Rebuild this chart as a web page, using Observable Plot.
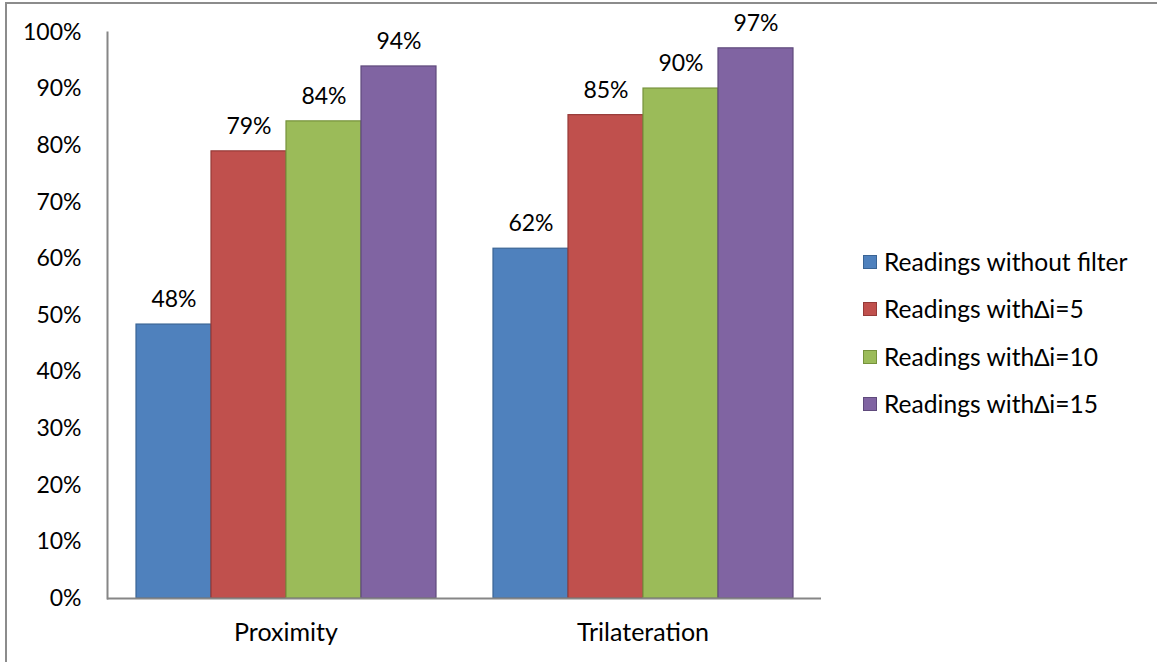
<!DOCTYPE html>
<html>
<head>
<meta charset="utf-8">
<script src="https://cdn.jsdelivr.net/npm/d3@7"></script>
<script src="https://cdn.jsdelivr.net/npm/@observablehq/plot@0.6"></script>
<style>
  body { margin: 0; background: #fff; }
  #wrap { position: relative; width: 1157px; height: 662px; overflow: hidden; font-family: Lato, "Noto Sans", sans-serif; background: #fff; }
  #border { position: absolute; left: 5px; top: 2px; width: 1300px; height: 800px; border-left: 2px solid #8c8c8c; border-top: 2px solid #8c8c8c; }
  #chart { position: absolute; left: 0; top: 0; }
  #legend { position: absolute; left: 863px; top: 238px; }
  .row { height: 47.5px; display: flex; align-items: center; font-size: 24.6px; color: #000; white-space: nowrap; }
  .sw { width: 14px; height: 14px; box-sizing: border-box; margin-right: 7px; border: 1px solid; }
  .fxaxis text { font-size: 25px; }
</style>
</head>
<body>
<div id="wrap">
  <div id="border"></div>
  <div id="chart"></div>
  <div id="legend"></div>
</div>
<script>
const categories = ["Proximity", "Trilateration"];
const series = ["Readings without filter", "Readings with\u2206i=5", "Readings with\u2206i=10", "Readings with\u2206i=15"];
const proximityValues = [0.484, 0.79, 0.843, 0.94];
const trilaterationValues = [0.618, 0.854, 0.901, 0.972];
const yTicks = [0, 0.1, 0.2, 0.3, 0.4, 0.5, 0.6, 0.7, 0.8, 0.9, 1.0];
const fills = ["#4F81BD", "#C0504D", "#9BBB59", "#8064A2"];
const strokes = ["#3A6494", "#963A38", "#76923C", "#5F4A7C"];

const valuesByCategory = [proximityValues, trilaterationValues];
const data = [];
categories.forEach((c, ci) => series.forEach((s, si) => data.push({category: c, series: s, value: valuesByCategory[ci][si]})));

const pct = v => Math.round(v * 100) + "%";

const plot = Plot.plot({
  width: 1157,
  height: 662,
  marginLeft: 107,
  marginRight: 336,
  marginTop: 32,
  marginBottom: 64,
  style: {fontFamily: "Lato, 'Noto Sans', sans-serif", fontSize: "23px", color: "#000", background: "transparent", overflow: "visible"},
  fx: {domain: categories, padding: 0, label: null},
  x: {domain: series, paddingInner: 0, paddingOuter: 0.364, axis: null},
  y: {domain: [0, 1], ticks: yTicks, tickFormat: d3.format(".0%"), label: null, tickSize: 0, tickPadding: 26},
  marks: [
    ...series.map((s, i) => Plot.barY(data.filter(d => d.series === s), {
      fx: "category", x: "series", y: "value", fill: fills[i], stroke: strokes[i], strokeWidth: 1.2, inset: 0
    })),
    Plot.text(data, {fx: "category", x: "series", y: "value", text: d => pct(d.value), dy: -25, fill: "#000"}),
    Plot.ruleY([0], {stroke: "#868686", strokeWidth: 2}),
    Plot.frame({anchor: "left", facetAnchor: "left", stroke: "#868686", strokeWidth: 2}),
    Plot.axisY({ticks: yTicks, tickFormat: d3.format(".0%"), tickSize: 0, tickPadding: 26, label: null}),
    Plot.axisFx({anchor: "bottom", tickSize: 0, tickPadding: 25, label: null, className: "fxaxis"})
  ]
});
document.getElementById("chart").appendChild(plot);

const legend = d3.select("#legend");
series.forEach((s, i) => {
  const row = legend.append("div").attr("class", "row");
  row.append("div").attr("class", "sw").style("background", fills[i]).style("border-color", strokes[i]);
  row.append("span").text(s);
});
</script>
</body>
</html>
